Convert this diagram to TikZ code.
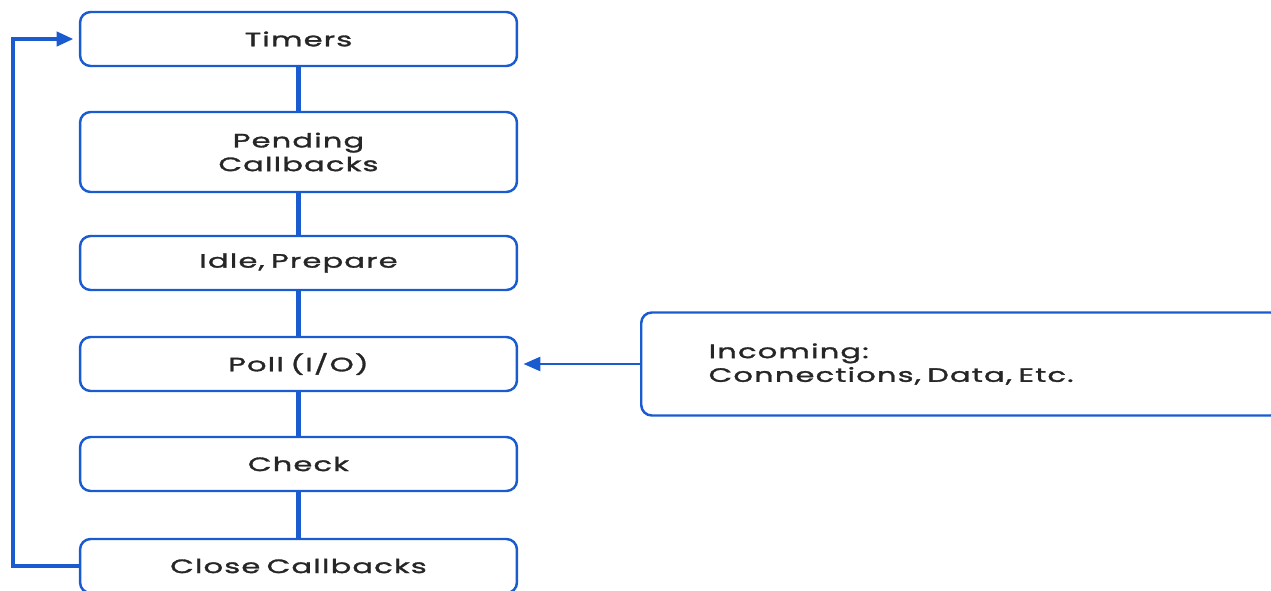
\documentclass[tikz,border=0pt]{standalone}
\usepackage{fontspec}
\setmainfont{Poppins}[FakeStretch=1.58, LetterSpace=6, WordSpace=1.5, FakeBold=1.6]
\usepackage{tikz}
\usetikzlibrary{arrows.meta}
\definecolor{loopblue}{HTML}{1A5CD0}
\tikzset{phase/.style = {rectangle, rounded corners=6pt, draw=loopblue, line width=1.4pt, minimum height=1.08cm, minimum width=8.74cm, text width=8.4cm, align=center, font=\fontsize{11}{13.5}\selectfont, text=black!85},
         link/.style = {draw=loopblue, line width=3pt}}

\begin{document}
\begin{tikzpicture}[x=0.02cm, y=-0.02cm]

        \useasboundingbox (0,0) rectangle (1271,591);

        \node (timers)  [phase] at (298.5,39)  {Timers};
        \node (pending) [phase, minimum height=1.6cm] at (298.5,152) {Pending\\Callbacks};
        \node (idle)    [phase] at (298.5,263) {Idle, Prepare};
        \node (poll)    [phase] at (298.5,364) {Poll (I/O)};
        \node (check)   [phase] at (298.5,464) {Check};
        \node (close)   [phase] at (298.5,566) {Close Callbacks};

        \node (incoming) [phase, minimum width=12.8cm, minimum height=2.06cm, inner xsep=1.34cm, text width=10.1cm, align=left, anchor=west] at (640,364) {Incoming:\\Connections, Data, Etc.};

        \draw[link] (timers) -- (pending);
        \draw[link] (pending) -- (idle);
        \draw[link] (idle) -- (poll);
        \draw[link] (poll) -- (check);
        \draw[link] (check) -- (close);

        \draw[link, -{Triangle[length=3.4mm, width=2.8mm]}, line width=1.6pt, shorten >=3pt] (incoming.west) -- (poll.east);
        \draw[link, -{Triangle[length=3.4mm, width=2.8mm]}, line width=2.6pt, shorten >=3pt] (close.west) -- ++(-66,0) |- (timers.west);

    \end{tikzpicture}
\end{document}
